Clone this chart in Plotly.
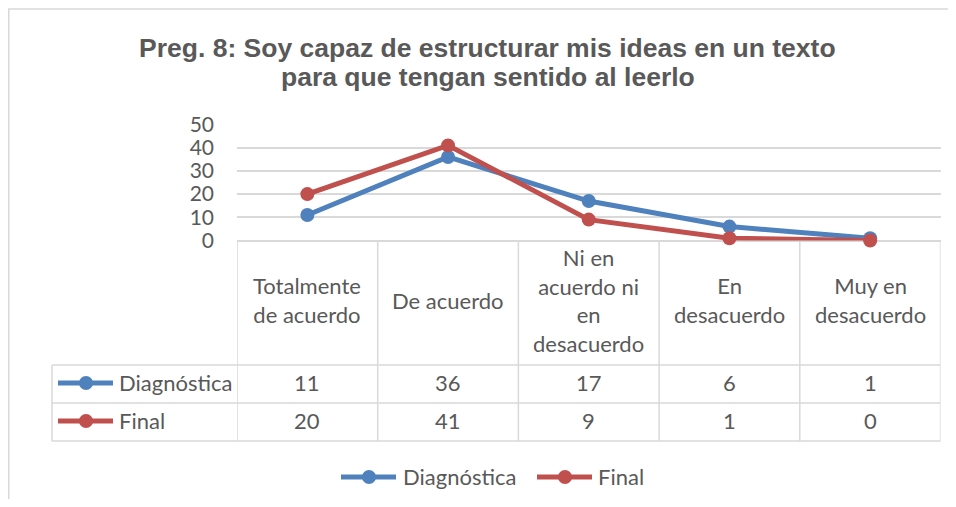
import plotly.graph_objects as go

categories = ["Totalmente de acuerdo", "De acuerdo", "Ni en acuerdo ni en desacuerdo", "En desacuerdo", "Muy en desacuerdo"]
cat_labels = ["Totalmente<br>de acuerdo", "De acuerdo", "Ni en<br>acuerdo ni<br>en<br>desacuerdo", "En<br>desacuerdo", "Muy en<br>desacuerdo"]
series_names = ["Diagnóstica", "Final"]
diagnostica = [11, 36, 17, 6, 1]
final = [20, 41, 9, 1, 0]
y_ticks = [0, 10, 20, 30, 40, 50]
title_lines = ["Preg. 8: Soy capaz de estructurar mis ideas en un texto",
               "para que tengan sentido al leerlo"]

# page body has an 8px margin; figure sized to fit the viewport
OFF = 8
W, H = 940, 491
BLUE = "#4F81BD"
RED = "#C0504D"
GRID = "#D9D9D9"
TXT = "#595959"
FONT = "Lato"


def px(x):
    return (x - OFF) / W


def py(y):
    return 1 - (y - OFF) / H


fig = go.Figure()
series = [diagnostica, final]
colors = [BLUE, RED]
for name, vals, c in zip(series_names, series, colors):
    fig.add_trace(go.Scatter(
        x=list(range(len(categories))), y=vals, name=name,
        mode="lines+markers",
        line=dict(color=c, width=5),
        marker=dict(color=c, size=14),
        showlegend=False, cliponaxis=False,
    ))

shapes = []
annotations = []

# outer chart border (top and left visible)
shapes.append(dict(type="line", xref="paper", yref="paper",
                   x0=0, x1=1, y0=py(9), y1=py(9),
                   line=dict(color=GRID, width=1.5), layer="below"))
shapes.append(dict(type="line", xref="paper", yref="paper",
                   x0=px(8.8), x1=px(8.8), y0=py(9), y1=0,
                   line=dict(color=GRID, width=1.5), layer="below"))

n = len(categories)
for i in range(n + 1):
    shapes.append(dict(type="line", xref="x", yref="paper",
                       x0=i - 0.5, x1=i - 0.5, y0=py(240), y1=py(441),
                       line=dict(color=GRID, width=1.5), layer="below"))
shapes.append(dict(type="line", xref="paper", yref="paper",
                   x0=px(52), x1=px(52), y0=py(365), y1=py(441),
                   line=dict(color=GRID, width=1.5), layer="below"))
for yy in [365, 403, 441]:
    shapes.append(dict(type="line", xref="paper", yref="paper",
                       x0=px(52), x1=px(940.5), y0=py(yy), y1=py(yy),
                       line=dict(color=GRID, width=1.5), layer="below"))

for i, lab in enumerate(cat_labels):
    annotations.append(dict(x=i, xref="x", y=py(300), yref="paper",
                            text=lab, showarrow=False, yanchor="middle",
                            font=dict(family=FONT, size=22, color=TXT)))

row_y = [384, 422]
for r, (name, vals, c) in enumerate(zip(series_names, series, colors)):
    yy = row_y[r]
    for i, v in enumerate(vals):
        annotations.append(dict(x=i, xref="x", y=py(yy - 1.5), yref="paper",
                                text=str(v), showarrow=False, yanchor="middle",
                                font=dict(family=FONT, size=22, color=TXT)))
    shapes.append(dict(type="line", xref="paper", yref="paper",
                       x0=px(58), x1=px(113), y0=py(yy - 1), y1=py(yy - 1),
                       line=dict(color=c, width=5)))
    shapes.append(dict(type="circle", xref="paper", yref="paper",
                       x0=px(86 - 7), x1=px(86 + 7), y0=py(yy - 1 - 7), y1=py(yy - 1 + 7),
                       fillcolor=c, line=dict(color=c, width=0)))
    annotations.append(dict(x=px(117), xref="paper", y=py(yy - 1.5), yref="paper",
                            text=name, showarrow=False, xanchor="left", yanchor="middle",
                            font=dict(family=FONT, size=22, color=TXT)))

leg = [(341, 396, 369, 401), (537, 592, 565, 596)]
for (x0, x1, xm, xt), name, c in zip(leg, series_names, colors):
    yy = 477
    shapes.append(dict(type="line", xref="paper", yref="paper",
                       x0=px(x0), x1=px(x1), y0=py(yy), y1=py(yy),
                       line=dict(color=c, width=5)))
    shapes.append(dict(type="circle", xref="paper", yref="paper",
                       x0=px(xm - 7), x1=px(xm + 7), y0=py(yy - 7), y1=py(yy + 7),
                       fillcolor=c, line=dict(color=c, width=0)))
    annotations.append(dict(x=px(xt), xref="paper", y=py(yy - 1), yref="paper",
                            text=name, showarrow=False, xanchor="left", yanchor="middle",
                            font=dict(family=FONT, size=22, color=TXT)))

for k, line in enumerate(title_lines):
    annotations.append(dict(x=px(488), xref="paper", y=py(47.5 + 30 * k), yref="paper",
                            text="<b>" + line + "</b>", showarrow=False, yanchor="middle",
                            font=dict(family="Arial, Liberation Sans, sans-serif", size=26.5, color=TXT)))

fig.update_layout(
    template="none",
    width=W, height=H,
    margin=dict(l=0, r=0, t=0, b=0, pad=0, autoexpand=False),
    paper_bgcolor="white", plot_bgcolor="white",
    shapes=shapes, annotations=annotations,
    xaxis=dict(domain=[px(237), px(940.5)], range=[-0.5, n - 0.5], automargin=False,
               showgrid=False, zeroline=False, showticklabels=False, showline=False, ticks=""),
    yaxis=dict(domain=[py(240.5), py(124.5)], range=[0, 50], automargin=False,
               tickvals=y_ticks, gridcolor=GRID, gridwidth=1.5,
               zeroline=True, zerolinecolor=GRID, zerolinewidth=1.5,
               showline=False, ticks="", ticklabelstandoff=22,
               tickfont=dict(family=FONT, size=21, color=TXT)),
)

fig.write_html("out.html")
